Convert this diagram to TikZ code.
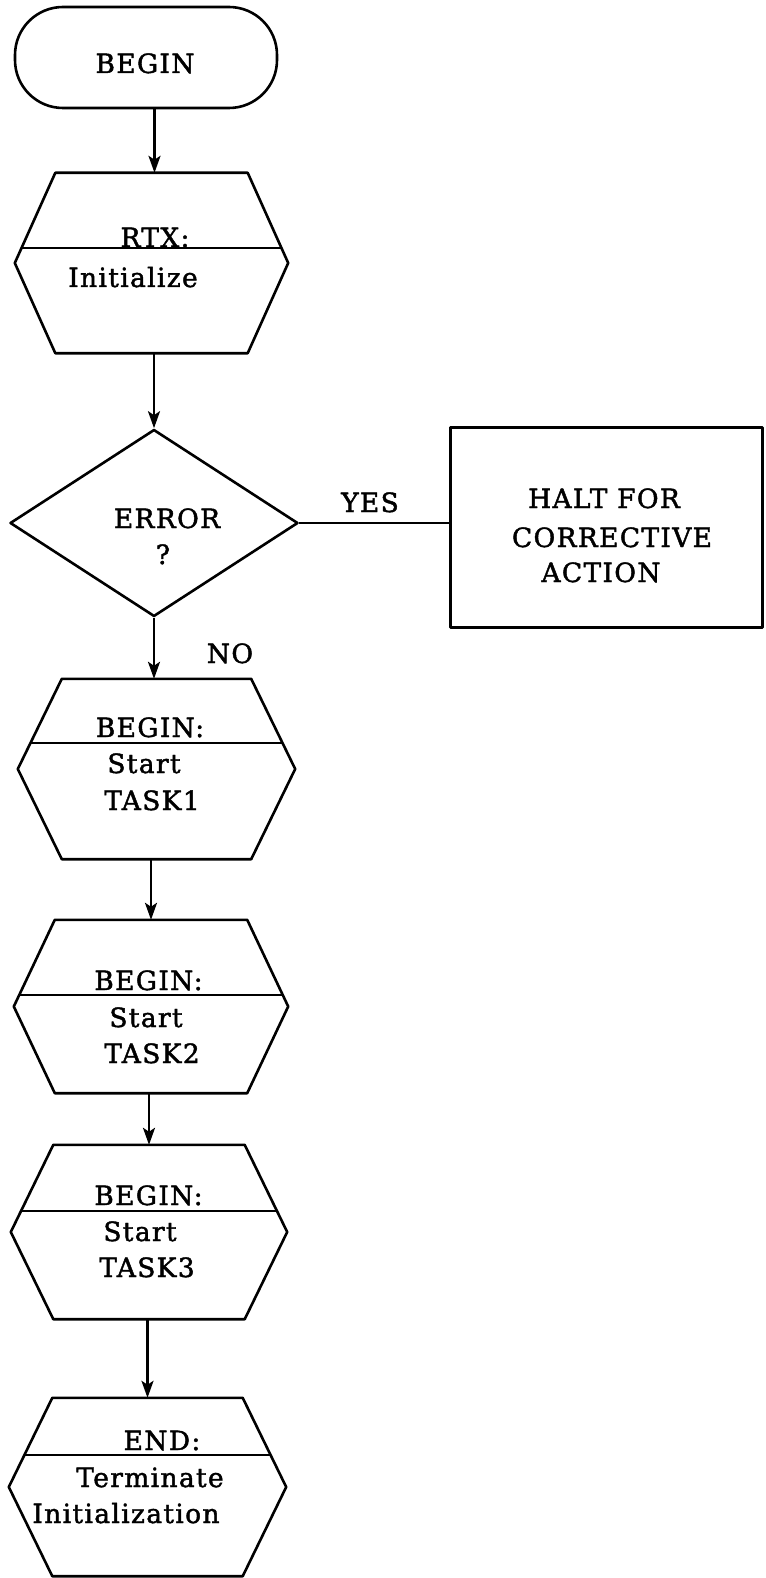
\documentclass[tikz,border=0pt]{standalone}
\usepackage{fontspec}
\setmainfont[LetterSpace=5,FakeBold=1.6]{DejaVu Serif}
\usetikzlibrary{calc,shapes.geometric,arrows.meta}
\tikzset{
every path/.style={line join=round},
lbl/.style={anchor=base, inner sep=0pt, font=\fontsize{26.5}{30}\selectfont},
startstop/.style={draw, line width=2.6pt, rectangle, rounded corners=48pt, inner sep=0pt, minimum width=262pt, minimum height=101pt},
hexbox/.style={rectangle, inner sep=0pt, minimum width=275pt, minimum height=180pt},
decision/.style={draw, line width=2.6pt, diamond, inner sep=0pt, minimum width=288pt, minimum height=187pt},
process/.style={draw, line width=3pt, rectangle, inner sep=0pt, minimum width=312pt, minimum height=200pt},
flow/.style={line width=2.6pt, -{Stealth[length=17pt,width=12pt,inset=4pt]}},
hexline/.style={line width=2.6pt}
}
\newcommand{\drawhex}[3]{%
\coordinate (#1-tl) at ($(#1.north west)+(#2,0)$);
\coordinate (#1-tr) at ($(#1.north east)+(-#2,0)$);
\coordinate (#1-bl) at ($(#1.south west)+(#2,0)$);
\coordinate (#1-br) at ($(#1.south east)+(-#2,0)$);
\draw[hexline] (#1-tl) -- (#1-tr) -- (#1.east) -- (#1-br) -- (#1-bl) -- (#1.west) -- cycle;
\draw[hexline, line width=2pt] ($(#1.west)!#3!(#1-tl)$) -- ($(#1.east)!#3!(#1-tr)$);
}

\begin{document}
\begin{tikzpicture}[x=1pt,y=-1pt]

\useasboundingbox (0,0) rectangle (765,1578);

% shapes
\node[startstop] (begin) at (146,57.5) {};

\node[hexbox, minimum width=273pt] (init) at (151.5,263) {};
\drawhex{init}{40.5}{0.17}

\node[decision] (err) at (154,523) {};

\node[process] (halt) at (606,527) {};

\node[hexbox, minimum width=277pt] (task1) at (156.5,769) {};
\drawhex{task1}{44}{0.29}

\node[hexbox, minimum width=274pt, minimum height=173pt] (task2) at (151,1006.5) {};
\drawhex{task2}{41}{0.13}

\node[hexbox, minimum width=276pt, minimum height=174pt] (task3) at (149,1232) {};
\drawhex{task3}{42.5}{0.24}

\node[hexbox, minimum width=277pt, minimum height=178pt] (term) at (147.5,1487) {};
\drawhex{term}{43.5}{0.36}

% texts
\node[lbl] (begintxt) at (145,73) {BEGIN};

\node[lbl] (inita) at (155,247) {RTX:};
\node[lbl] (initb) at (133,287) {Initialize};

\node[lbl] (erra) at (167,528) {ERROR};
\node[lbl] (errb) at (163,564) {?};
\node[lbl] (yes) at (370,512) {YES};
\node[lbl] (no) at (230,663) {NO};

\node[lbl] (halta) at (604,508) {HALT FOR};
\node[lbl] (haltb) at (612,547) {CORRECTIVE};
\node[lbl] (haltc) at (601,582) {ACTION};

\node[lbl] (task1a) at (150,737) {BEGIN:};
\node[lbl] (task1b) at (144,773) {Start};
\node[lbl] (task1c) at (152,810) {TASK1};

\node[lbl] (task2a) at (148.5,990) {BEGIN:};
\node[lbl] (task2b) at (146,1027) {Start};
\node[lbl] (task2c) at (152,1063) {TASK2};

\node[lbl] (task3a) at (148.5,1205) {BEGIN:};
\node[lbl] (task3b) at (140,1241) {Start};
\node[lbl] (task3c) at (147,1277) {TASK3};

\node[lbl] (terma) at (162,1450) {END:};
\node[lbl] (termb) at (150,1487) {Terminate};
\node[lbl] (termc) at (126,1523) {Initialization};

% connectors
\draw[flow] ([xshift=3pt]init.north |- begin.south) -- ([xshift=3pt]init.north);
\draw[flow] (init.south -| err.north) -- (err.north);
\draw[line width=2.4pt] (err.east) -- (err.east -| halt.west);
\draw[flow] (err.south) -- (err.south |- task1.north);
\draw[flow] (task2.north |- task1.south) -- (task2.north);
\draw[flow] (task3.north |- task2.south) -- (task3.north);
\draw[flow] (term.north |- task3.south) -- (term.north);

\end{tikzpicture}
\end{document}
